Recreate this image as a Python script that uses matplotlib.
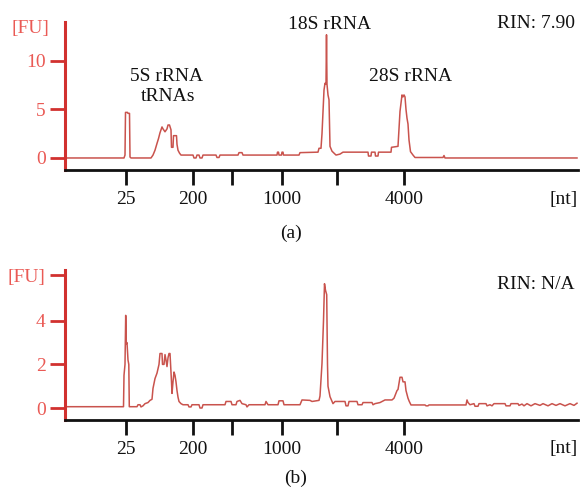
import matplotlib
matplotlib.use("Agg")
import matplotlib.pyplot as plt

plt.rcParams['font.family'] = ['Liberation Serif', 'DejaVu Serif']

# ---- data (migration time in s, fluorescence in FU) ----
time_a = [17.0, 22.9, 23.0, 23.05, 23.25, 23.3, 23.45, 23.5, 23.6, 25.6,
          25.8, 26.0, 26.2, 26.35, 26.5, 26.6, 26.7, 26.8, 27.0, 27.2,
          27.3, 27.45, 27.6, 27.65, 27.8, 27.85, 28.15, 28.2, 28.3, 28.45,
          28.6, 29.8, 29.9, 30.1, 30.2, 30.4, 30.5, 30.7, 30.8, 32.1,
          32.2, 32.4, 32.5, 34.3, 34.4, 34.7, 34.8, 38.2, 38.25, 38.35,
          38.4, 38.65, 38.7, 38.8, 38.85, 40.4, 40.5, 42.3, 42.4, 42.6,
          42.7, 42.9, 43.0, 43.1, 43.15, 43.2, 43.3, 43.4, 43.5, 43.7,
          43.9, 44.1, 44.5, 44.8, 47.3, 47.35, 47.6, 47.65, 48.0, 48.05,
          48.3, 48.35, 49.6, 49.65, 50.3, 50.4, 50.5, 50.7, 50.8, 50.9,
          51.0, 51.1, 51.2, 51.3, 51.4, 51.55, 51.8, 52.0, 54.8, 54.9,
          55.0, 68.2]
fu_a = [0.0, 0.0, 0.3, 4.7, 4.7, 4.6, 4.6, 0.1, 0.0, 0.0,
        0.3, 0.8, 1.5, 2.0, 2.6, 2.9, 3.2, 3.0, 2.7, 3.0,
        3.4, 3.4, 2.9, 1.1, 1.1, 2.3, 2.3, 1.4, 0.8, 0.5,
        0.3, 0.3, 0.0, 0.0, 0.3, 0.3, 0.0, 0.0, 0.3, 0.3,
        0.05, 0.05, 0.3, 0.3, 0.55, 0.55, 0.3, 0.3, 0.6, 0.6,
        0.3, 0.3, 0.6, 0.6, 0.3, 0.3, 0.55, 0.6, 1.0, 1.0,
        2.5, 7.0, 7.7, 7.6, 12.7, 7.6, 6.5, 6.0, 1.2, 0.7,
        0.5, 0.3, 0.4, 0.6, 0.6, 0.2, 0.2, 0.6, 0.6, 0.2,
        0.2, 0.6, 0.6, 1.1, 1.2, 3.0, 4.8, 6.5, 6.3, 6.5,
        6.3, 5.0, 4.1, 3.5, 1.86, 0.65, 0.3, 0.05, 0.05, 0.25,
        0.0, 0.0]

time_b = [17.0, 22.85, 22.9, 23.0, 23.07, 23.13, 23.2, 23.3, 23.38, 23.43,
          24.2, 24.3, 24.5, 24.6, 24.8, 25.0, 25.3, 25.5, 25.7, 25.8,
          26.0, 26.2, 26.3, 26.4, 26.5, 26.7, 26.75, 26.9, 27.0, 27.1,
          27.2, 27.3, 27.4, 27.5, 27.65, 27.7, 27.8, 27.9, 28.0, 28.1,
          28.2, 28.3, 28.4, 28.6, 28.8, 29.3, 29.4, 29.6, 29.7, 30.4,
          30.5, 30.7, 30.8, 33.0, 33.1, 33.6, 33.7, 34.1, 34.2, 34.5,
          34.7, 35.1, 35.2, 35.4, 37.0, 37.1, 37.3, 38.3, 38.4, 38.8,
          38.9, 40.5, 40.7, 41.5, 41.7, 42.4, 42.5, 42.7, 42.85, 42.95,
          43.05, 43.17, 43.25, 43.3, 43.5, 43.8, 44.0, 45.0, 45.1, 45.3,
          45.4, 46.2, 46.3, 46.7, 46.8, 47.7, 47.8, 48.0, 48.5, 49.0,
          49.7, 49.9, 50.2, 50.3, 50.5, 50.7, 50.8, 51.0, 51.1, 51.3,
          51.43, 51.6, 53.0, 53.1, 53.3, 53.4, 57.1, 57.2, 57.3, 57.5,
          57.9, 58.0, 58.3, 58.4, 59.1, 59.2, 59.5, 59.7, 59.9, 61.0,
          61.1, 61.5, 61.6, 62.3, 62.4, 62.7, 62.9, 63.2, 63.6, 64.0,
          64.5, 64.8, 65.3, 65.7, 66.1, 66.5, 67.0, 67.5, 67.9, 68.2]
fu_b = [0.06, 0.06, 1.5, 2.0, 4.25, 2.95, 3.0, 2.2, 2.0, 0.06,
        0.06, 0.15, 0.15, 0.05, 0.1, 0.2, 0.25, 0.35, 0.4, 0.9,
        1.35, 1.6, 1.8, 2.0, 2.5, 2.5, 2.0, 2.0, 2.45, 2.2,
        1.9, 2.3, 2.5, 2.5, 1.2, 0.67, 1.2, 1.65, 1.5, 1.2,
        0.8, 0.5, 0.3, 0.2, 0.15, 0.15, 0.05, 0.05, 0.15, 0.15,
        0.0, 0.0, 0.15, 0.15, 0.3, 0.3, 0.15, 0.15, 0.3, 0.35,
        0.2, 0.15, 0.05, 0.15, 0.15, 0.3, 0.15, 0.15, 0.33, 0.33,
        0.15, 0.15, 0.37, 0.35, 0.3, 0.35, 0.55, 2.05, 4.0, 5.7,
        5.4, 5.2, 2.0, 1.0, 0.52, 0.2, 0.3, 0.3, 0.1, 0.1,
        0.3, 0.3, 0.15, 0.15, 0.25, 0.25, 0.15, 0.2, 0.25, 0.37,
        0.37, 0.45, 0.8, 0.85, 1.41, 1.41, 1.2, 1.2, 0.8, 0.45,
        0.3, 0.14, 0.14, 0.1, 0.1, 0.14, 0.14, 0.37, 0.25, 0.15,
        0.2, 0.08, 0.08, 0.2, 0.2, 0.1, 0.15, 0.1, 0.2, 0.2,
        0.1, 0.1, 0.2, 0.2, 0.12, 0.18, 0.1, 0.2, 0.1, 0.2,
        0.12, 0.2, 0.1, 0.2, 0.12, 0.2, 0.1, 0.2, 0.12, 0.22]

x_tick_pos = [23.1, 29.8, 33.7, 38.7, 44.2, 50.9]
x_tick_labels = ['25', '200', '', '1000', '', '4000']
y_ticks_a = [0, 5, 10]
y_ticks_b = [0, 2, 4, 6.1]
y_labels_b = ['0', '2', '4', '[FU]']

peak_labels_a = ['5S rRNA', 'tRNAs', '18S rRNA', '28S rRNA']
peak_pos_a = [(27.2, 8.45), (27.3, 6.3), (43.45, 13.8), (51.55, 8.45)]

# ---- style ----
trace_color = '#c9534d'
axis_red = '#d1312f'
label_red = '#ea5a55'
fs = 14

fig = plt.figure(figsize=(5.86, 4.92), dpi=100)
ax_a = fig.add_axes([65/586, 1-170/492, 513/586, 148/492])
ax_b = fig.add_axes([65/586, 1-420/492, 513/586, 150/492])


def style(ax, ylim):
    ax.set_xlim(17.0, 68.3)
    ax.set_ylim(*ylim)
    for s in ['top', 'right']:
        ax.spines[s].set_visible(False)
    ax.spines['left'].set_color(axis_red)
    ax.spines['left'].set_linewidth(2.2)
    ax.spines['bottom'].set_color('#111111')
    ax.spines['bottom'].set_linewidth(2.0)
    ax.set_xticks(x_tick_pos)
    ax.set_xticklabels(x_tick_labels)
    ax.tick_params(axis='x', direction='out', length=11, width=2,
                   color='#111111', labelsize=fs, pad=4, labelcolor='#111111')
    ax.tick_params(axis='y', direction='out', length=11, width=2,
                   color=axis_red, labelsize=fs, pad=3, labelcolor=label_red)
    ax.patch.set_alpha(0)


# panel (a)
ax_a.plot(time_a, fu_a, color=trace_color, lw=1.1)
style(ax_a, (-1.24, 14.02))
ax_a.set_yticks(y_ticks_a)
ax_a.set_yticklabels([str(v) for v in y_ticks_a])
ax_a.text(-0.03, 13.4, '[FU]', transform=ax_a.get_yaxis_transform(),
          ha='right', va='center', fontsize=fs, color=label_red, clip_on=False)
for lab, (x, y) in zip(peak_labels_a, peak_pos_a):
    ax_a.text(x, y, lab, ha='center', va='center', fontsize=fs, color='#111111')
ax_a.text(68.0, 13.9, 'RIN: 7.90', ha='right', va='center', fontsize=fs,
          color='#111111')
ax_a.text(68.25, -4.33, '[nt]', ha='right', va='center', fontsize=fs,
          color='#111111', clip_on=False)

# panel (b)
ax_b.plot(time_b, fu_b, color=trace_color, lw=1.1)
style(ax_b, (-0.55, 6.33))
ax_b.set_yticks(y_ticks_b)
ax_b.set_yticklabels(y_labels_b)
ax_b.text(68.0, 5.66, 'RIN: N/A', ha='right', va='center', fontsize=fs,
          color='#111111')
ax_b.text(68.25, -1.87, '[nt]', ha='right', va='center', fontsize=fs,
          color='#111111', clip_on=False)

fig.text(291/586, 1-233/492, '(a)', ha='center', va='center', fontsize=fs,
         color='#111111')
fig.text(296/586, 1-478/492, '(b)', ha='center', va='center', fontsize=fs,
         color='#111111')

fig.savefig('out.png', dpi=100)
